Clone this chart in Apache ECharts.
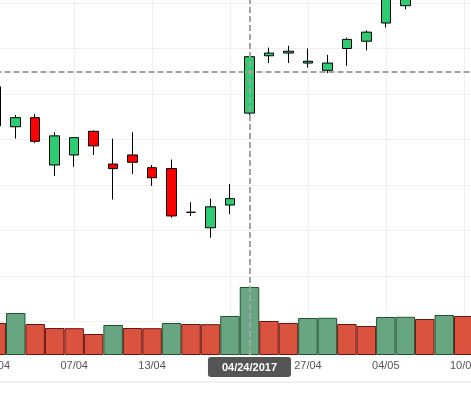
<!DOCTYPE html>
<html>
<head>
<meta charset="utf-8">
<script src="https://cdn.jsdelivr.net/npm/echarts@6/dist/echarts.min.js"></script>
<style>html,body{margin:0;padding:0;background:#fff}#c{width:471px;height:393px}</style>
</head>
<body>
<div id="c"></div>
<script>
// ---- data ----
var dates = ['2017-04-03','2017-04-04','2017-04-05','2017-04-06','2017-04-07','2017-04-10','2017-04-11','2017-04-12','2017-04-13','2017-04-18','2017-04-19','2017-04-20','2017-04-21','2017-04-24','2017-04-25','2017-04-26','2017-04-27','2017-04-28','2017-05-02','2017-05-03','2017-05-04','2017-05-05','2017-05-08','2017-05-09','2017-05-10'];
var open  = [28.08, 27.64, 27.74, 27.22, 27.33, 27.59, 27.23, 27.33, 27.19, 27.18, 26.70, 26.53, 26.78, 27.79, 28.42, 28.45, 28.34, 28.26, 28.50, 28.58, 28.78, 28.97, 29.22, 29.40, 29.55];
var close = [27.65, 27.74, 27.48, 27.54, 27.52, 27.43, 27.18, 27.25, 27.08, 26.66, 26.70, 26.76, 26.85, 28.41, 28.45, 28.47, 28.36, 28.34, 28.60, 28.68, 29.10, 29.20, 29.38, 29.52, 29.70];
var low   = [27.62, 27.51, 27.46, 27.10, 27.20, 27.33, 26.84, 27.12, 26.99, 26.64, 26.66, 26.42, 26.68, 27.76, 28.34, 28.34, 28.29, 28.23, 28.31, 28.48, 28.73, 28.93, 29.15, 29.30, 29.45];
var high  = [28.10, 27.77, 27.78, 27.58, 27.52, 27.60, 27.51, 27.58, 27.22, 27.28, 26.81, 26.85, 27.01, 28.41, 28.51, 28.53, 28.50, 28.43, 28.62, 28.70, 29.12, 29.25, 29.45, 29.60, 29.75];
var volume = [1.60, 2.10, 1.55, 1.35, 1.34, 1.05, 1.50, 1.35, 1.34, 1.60, 1.55, 1.54, 1.95, 3.40, 1.70, 1.60, 1.85, 1.86, 1.55, 1.45, 1.90, 1.91, 1.80, 2.00, 1.95];
var crossDate = '2017-04-24';
var crossPrice = 28.245;

// ---- build ----
var candleData = dates.map(function (d, i) { return [open[i], close[i], low[i], high[i]]; });
var volData = volume.map(function (v, i) {
  var up = i > 0 && v > volume[i - 1];
  return {
    value: v,
    itemStyle: up ? { color: '#68a682', borderColor: '#1f5530' } : { color: '#d9533f', borderColor: '#6e1410' }
  };
});
function ddmm(v) { var p = v.split('-'); return p[2] + '/' + p[1]; }
function mmddyyyy(v) { var p = v.split('-'); return p[1] + '/' + p[2] + '/' + p[0]; }

var dash = { color: '#a3a3a3', width: 2, type: [6, 3] };
var font = 'Liberation Sans, Arial, sans-serif';

var chart = echarts.init(document.getElementById('c'));
chart.setOption({
  animation: false,
  backgroundColor: '#fff',
  textStyle: { fontFamily: font },
  grid: [
    { left: -13.5, right: -2.5, top: -42.5, bottom: 71.5, outerBoundsMode: 'none', containLabel: false },
    { left: -13.5, right: -2.5, top: 0, bottom: 38, outerBoundsMode: 'none', containLabel: false }
  ],
  xAxis: [
    {
      type: 'category', data: dates, gridIndex: 0, boundaryGap: true,
      axisLine: { show: false }, axisTick: { show: false }, axisLabel: { show: false },
      splitLine: { show: true, interval: 3, alignWithLabel: true, lineStyle: { color: '#f0f0f0', width: 1 } },
      axisPointer: { show: false }
    },
    {
      type: 'category', data: dates, gridIndex: 1, boundaryGap: true,
      axisLine: { show: false }, axisTick: { show: false },
      axisLabel: { interval: 3, formatter: ddmm, color: '#555', fontSize: 11, margin: 5, fontFamily: font },
      splitLine: { show: false },
      axisPointer: {
        show: true, type: 'line', value: crossDate, status: 'show', snap: true,
        lineStyle: dash,
        label: {
          show: true, formatter: function (p) { return mmddyyyy(p.value); },
          backgroundColor: '#555', color: '#fff', fontWeight: 'bold', fontSize: 11,
          fontFamily: font, padding: [5, 14, 4, 14], borderRadius: 3, margin: 2
        }
      }
    }
  ],
  yAxis: [
    {
      type: 'value', gridIndex: 0, min: 25.5, max: 29.5, interval: 0.5,
      axisLine: { show: false }, axisTick: { show: false }, axisLabel: { show: false },
      splitLine: { show: true, lineStyle: { color: '#f0f0f0', width: 1 } },
      axisPointer: { show: true, type: 'line', value: crossPrice, status: 'show', lineStyle: dash, label: { show: false } }
    },
    {
      type: 'value', gridIndex: 1, min: 0, max: 17.75,
      axisLine: { show: false }, axisTick: { show: false }, axisLabel: { show: false },
      splitLine: { show: false }, axisPointer: { show: false }
    }
  ],
  graphic: [
    { type: 'line', shape: { x1: 0, y1: 382, x2: 471, y2: 382 }, style: { stroke: '#e2e2e2', lineWidth: 1 }, silent: true }
  ],
  series: [
    {
      type: 'bar', xAxisIndex: 1, yAxisIndex: 1, data: volData,
      barCategoryGap: '0%', itemStyle: { borderWidth: 1 }
    },
    {
      type: 'candlestick', xAxisIndex: 0, yAxisIndex: 0, data: candleData, clip: true,
      barWidth: 10,
      itemStyle: { color: '#2ecc71', color0: '#ff0000', borderColor: '#000', borderColor0: '#000', borderColorDoji: '#000', borderWidth: 1 }
    }
  ]
});
</script>
</body>
</html>
